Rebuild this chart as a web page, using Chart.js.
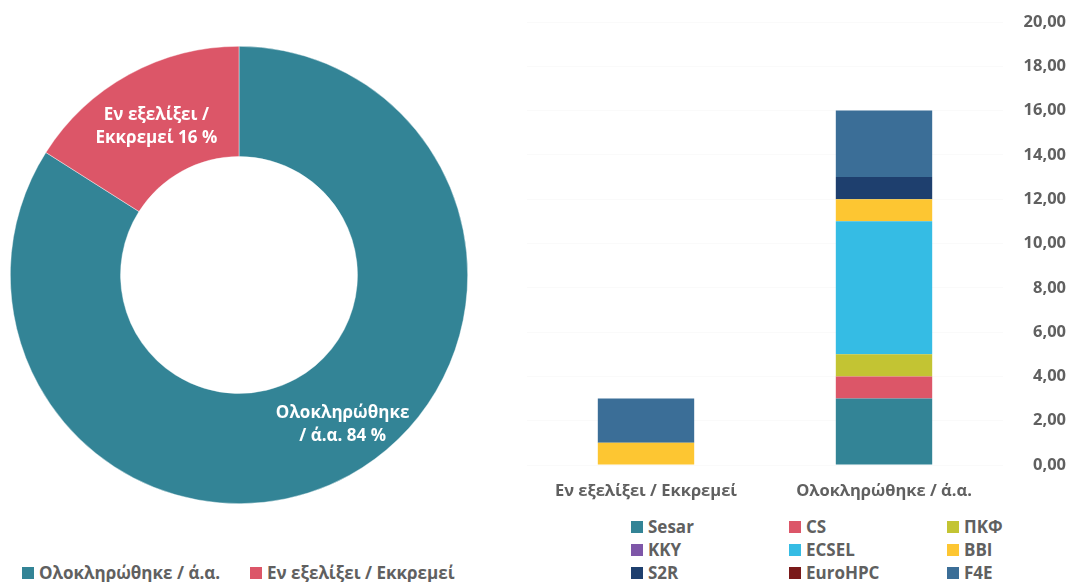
<!DOCTYPE html>
<html>
<head>
<meta charset="utf-8">
<script src="https://cdn.jsdelivr.net/npm/chart.js@4/dist/chart.umd.min.js"></script>
<style>
  html, body { margin:0; padding:0; background:#fff; width:1068px; height:582px; overflow:hidden; font-family:"Open Sans", "Noto Sans", sans-serif; }
  #pieWrap { position:absolute; left:0; top:0; width:478px; height:550px; }
  #barWrap { position:absolute; left:500px; top:0; width:568px; height:505px; }
  .leg { position:absolute; font-weight:bold; color:#606060; font-size:17px; white-space:nowrap; line-height:20px; }
  .leg .box { display:inline-block; width:12px; height:12px; margin-right:5px; vertical-align:0px; }
</style>
</head>
<body>
<div id="pieWrap"><canvas id="pie"></canvas></div>
<div id="barWrap"><canvas id="bar"></canvas></div>
<div id="pieLegend"></div>
<div id="barLegend"></div>
<script>
// ---- Doughnut data ----
const pieLabels = ["Ολοκληρώθηκε / ά.α.", "Εν εξελίξει / Εκκρεμεί"];
const pieValues = [84, 16];
const pieColors = ["#338496", "#DC5668"];
const pieInnerLabels = [["Ολοκληρώθηκε", "/ ά.α. 84 %"], ["Εν εξελίξει /", "Εκκρεμεί 16 %"]];

// ---- Stacked bar data ----
const barCategories = ["Εν εξελίξει / Εκκρεμεί", "Ολοκληρώθηκε / ά.α."];
const seriesNames = ["Sesar", "CS", "ΠΚΦ", "KKY", "ECSEL", "BBI", "S2R", "EuroHPC", "F4E"];
const sesar   = [0, 3];
const cs      = [0, 1];
const pkf     = [0, 1];
const kky     = [0, 0];
const ecsel   = [0, 6];
const bbi     = [1, 1];
const s2r     = [0, 1];
const eurohpc = [0, 0];
const f4e     = [2, 3];
const seriesValues = [sesar, cs, pkf, kky, ecsel, bbi, s2r, eurohpc, f4e];
const seriesColors = ["#338496", "#DC5668", "#C3C433", "#7E56A8", "#35BCE4", "#FDC632", "#1E3F6E", "#7A1A1A", "#3B6E97"];
const yTicks = [0, 2, 4, 6, 8, 10, 12, 14, 16, 18, 20];

const FONT = "'Open Sans', 'Noto Sans', sans-serif";
const GREY = "#606060";

// Doughnut inner labels plugin
const labelOffsets = [{dx: 20, dy: -2}, {dx: 1, dy: 4}];
const innerLabelPlugin = {
  id: 'innerLabels',
  afterDatasetsDraw(chart) {
    const ctx = chart.ctx;
    const meta = chart.getDatasetMeta(0);
    ctx.save();
    ctx.fillStyle = "#ffffff";
    ctx.font = "bold 17px " + FONT;
    ctx.textAlign = "center";
    ctx.textBaseline = "middle";
    meta.data.forEach((arc, i) => {
      const p = arc.getProps(['x','y','startAngle','endAngle','innerRadius','outerRadius'], true);
      const a = (p.startAngle + p.endAngle) / 2;
      const r = (p.innerRadius + p.outerRadius) / 2;
      const cx = p.x + Math.cos(a) * r + labelOffsets[i].dx;
      const cy = p.y + Math.sin(a) * r + labelOffsets[i].dy;
      const lines = pieInnerLabels[i];
      lines.forEach((t, k) => {
        ctx.fillText(t, cx, cy + (k - (lines.length - 1) / 2) * 23);
      });
    });
    ctx.restore();
  }
};

new Chart(document.getElementById('pie'), {
  type: 'doughnut',
  data: {
    labels: pieLabels,
    datasets: [{ data: pieValues, backgroundColor: pieColors, borderColor: "rgba(255,255,255,0.7)", borderWidth: 0.6 }]
  },
  options: {
    responsive: true,
    maintainAspectRatio: false,
    animation: false,
    cutout: "51.8%",
    layout: { padding: 10 },
    plugins: { legend: { display: false }, tooltip: { enabled: false } }
  },
  plugins: [innerLabelPlugin]
});

new Chart(document.getElementById('bar'), {
  type: 'bar',
  data: {
    labels: barCategories,
    datasets: seriesNames.map((n, i) => ({
      label: n,
      data: seriesValues[i],
      backgroundColor: seriesColors[i],
      borderWidth: 0,
      categoryPercentage: 1,
      barPercentage: 0.405
    }))
  },
  options: {
    responsive: true,
    maintainAspectRatio: false,
    animation: false,
    layout: { padding: { left: 27, top: 22, right: 2, bottom: 0 } },
    plugins: { legend: { display: false }, tooltip: { enabled: false } },
    scales: {
      x: {
        stacked: true,
        grid: { display: false, drawTicks: false },
        border: { display: false },
        ticks: { color: GREY, font: { family: FONT, size: 16.5, weight: 'bold' }, padding: 16 },
        afterFit(s) { s.height = 40; }
      },
      y: {
        stacked: true,
        position: 'right',
        min: 0, max: 20,
        afterBuildTicks(s) { s.ticks = yTicks.map(v => ({ value: v })); },
        grid: { color: "#fafafa", drawTicks: false },
        border: { display: false },
        ticks: {
          color: GREY,
          font: { family: FONT, size: 16.5, weight: 'bold' },
          crossAlign: 'far',
          padding: 10,
          callback: v => v.toFixed(2).replace('.', ',')
        },
        afterFit(s) { s.width = 63; }
      }
    }
  }
});

// HTML legends built from arrays
const pl = document.getElementById('pieLegend');
const pieLegX = [22, 250];
pieLabels.forEach((l, i) => {
  const d = document.createElement('div');
  d.className = 'leg';
  d.style.left = pieLegX[i] + 'px';
  d.style.top = '563px';
  d.innerHTML = '<span class="box" style="background:' + pieColors[i] + '"></span>' + l;
  pl.appendChild(d);
});
const bl = document.getElementById('barLegend');
const colX = [631, 789, 947];
const rowY = [517, 540, 563];
seriesNames.forEach((n, i) => {
  const d = document.createElement('div');
  d.className = 'leg';
  d.style.left = colX[i % 3] + 'px';
  d.style.top = rowY[Math.floor(i / 3)] + 'px';
  d.innerHTML = '<span class="box" style="background:' + seriesColors[i] + '"></span>' + n;
  bl.appendChild(d);
});
</script>
</body>
</html>
